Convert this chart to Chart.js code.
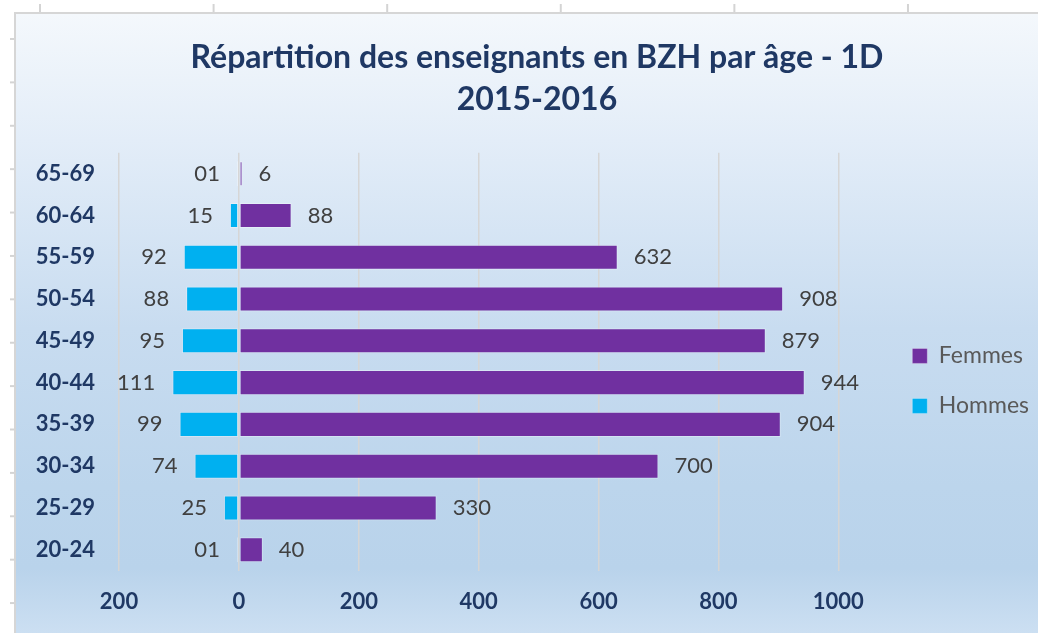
<!DOCTYPE html>
<html>
<head>
<meta charset="utf-8">
<script src="https://cdn.jsdelivr.net/npm/chart.js@4"></script>
<style>
  html, body { margin: 0; padding: 0; background: #fff; overflow: hidden; }
  body { width: 1038px; height: 633px; position: relative; }
  /* spreadsheet column / row marks around the chart object */
  #cols {
    position: absolute; left: 0; top: 0; width: 1038px; height: 14px;
    background: repeating-linear-gradient(to right, #d4d4d4 0 2px, transparent 2px 173.6px);
    background-position: 39px 4px; background-repeat: repeat-x; background-size: 173.6px 10px;
  }
  #rows {
    position: absolute; left: 0; top: 0; width: 15px; height: 633px;
    background: repeating-linear-gradient(to bottom, #d4d4d4 0 2px, transparent 2px 43.4px);
    background-position: 10px 38px; background-repeat: repeat-y; background-size: 5px 43.4px;
  }
  #frame {
    position: absolute; left: 14px; top: 12px; width: 1030px; height: 630px;
    border-left: 2px solid #d6d6d6; border-top: 2px solid #d6d6d6;
    background: linear-gradient(to bottom, #f4f8fc 0%, #e3edf8 20%, #c8dcf0 50%, #bcd5ec 75%, #b9d3eb 88%, #cfe1f3 100%);
  }
  #wrap { position: absolute; left: 16px; top: 14px; width: 1023px; height: 619px; }
</style>
</head>
<body>
<div id="cols"></div>
<div id="rows"></div>
<div id="frame"></div>
<div id="wrap"><canvas id="myChart"></canvas></div>
<script>
const ages = ["20-24", "25-29", "30-34", "35-39", "40-44", "45-49", "50-54", "55-59", "60-64", "65-69"];
const femmes = [40, 330, 700, 904, 944, 879, 908, 632, 88, 6];
const hommes = [1, 25, 74, 99, 111, 95, 88, 92, 15, 1];
const xTicks = [-200, 0, 200, 400, 600, 800, 1000];

const navy = "#1F3864";
const grey = "#404040";

// value labels next to the end of each bar
const barLabels = {
  id: "barLabels",
  afterDatasetsDraw(chart) {
    const ctx = chart.ctx;
    ctx.save();
    ctx.font = "22px Lato";
    ctx.fillStyle = grey;
    ctx.textBaseline = "middle";
    chart.data.datasets.forEach((ds, di) => {
      const meta = chart.getDatasetMeta(di);
      meta.data.forEach((bar, i) => {
        const v = ds.data[i];
        if (v < 0) {
          ctx.textAlign = "right";
          ctx.fillText(String(-v).padStart(2, "0"), bar.x - 17, bar.y);
        } else {
          ctx.textAlign = "left";
          ctx.fillText(String(v), bar.x + 16, bar.y);
        }
      });
    });
    ctx.restore();
  },
};

const ctx = document.getElementById("myChart");

new Chart(ctx, {
  type: "bar",
  data: {
    labels: ages,
    datasets: [
      {
        label: "Femmes",
        data: femmes,
        backgroundColor: "#7030A0",
        borderColor: "rgba(255,255,255,0.3)",
        borderWidth: 1,
        borderSkipped: false,
        barPercentage: 0.6,
        categoryPercentage: 1,
        minBarLength: 2,
      },
      {
        label: "Hommes",
        data: hommes.map((v) => -v),
        backgroundColor: "#00B0F0",
        borderColor: "rgba(255,255,255,0.3)",
        borderWidth: 1,
        borderSkipped: false,
        barPercentage: 0.6,
        categoryPercentage: 1,
        minBarLength: 2,
      },
    ],
  },
  options: {
    indexAxis: "y",
    responsive: true,
    maintainAspectRatio: false,
    animation: false,
    layout: { padding: { left: 19, right: 0, top: 0, bottom: 0 } },
    plugins: {
      tooltip: { enabled: false },
      title: {
        display: true,
        text: ["Répartition des enseignants en BZH par âge - 1D", "2015-2016"],
        color: navy,
        font: { family: "Lato", size: 32, weight: "bold", lineHeight: 1.31 },
        padding: { top: 23, bottom: 32 },
      },
      legend: {
        position: "right",
        fullSize: false,
        align: "center",
        title: { display: true, text: " ", padding: 12 },
        labels: {
          boxWidth: 15,
          boxHeight: 15,
          padding: 27,
          color: "#595959",
          font: { family: "Lato", size: 23 },
        },
      },
    },
    scales: {
      x: {
        stacked: true,
        min: -200,
        max: 1000,
        afterBuildTicks: (scale) => {
          scale.ticks = xTicks.map((v) => ({ value: v }));
        },
        border: { display: false },
        grid: { color: "#d6d6d6", lineWidth: 1.5, drawTicks: false },
        ticks: {
          padding: 18,
          color: navy,
          font: { family: "Lato", size: 22, weight: "bold" },
          callback: (v) => String(Math.abs(v)),
        },
      },
      y: {
        stacked: true,
        reverse: true,
        border: { display: false },
        grid: { display: false, drawTicks: false },
        afterFit: (scale) => {
          scale.width = 84;
        },
        ticks: {
          padding: 24,
          color: navy,
          font: { family: "Lato", size: 22, weight: "bold" },
        },
      },
      // empty spacer between the plot and the legend
      gap: {
        type: "category",
        position: "right",
        grid: { display: false, drawTicks: false },
        border: { display: false },
        ticks: { display: false },
        afterFit: (scale) => {
          scale.width = 47;
        },
      },
    },
  },
  plugins: [barLabels],
});
</script>
</body>
</html>
